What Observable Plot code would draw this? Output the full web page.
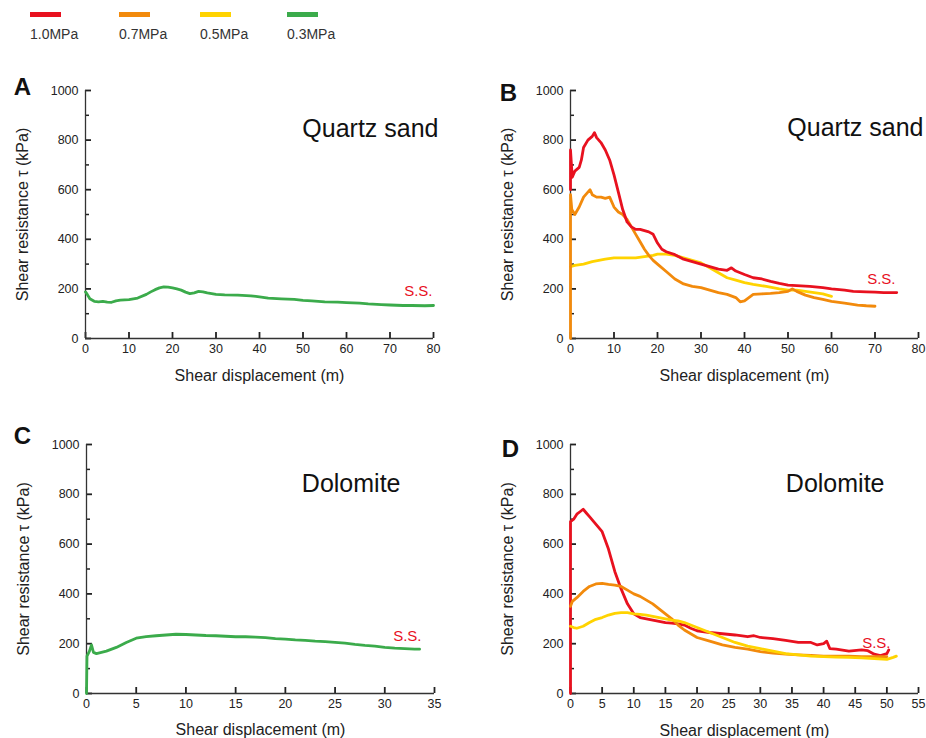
<!DOCTYPE html>
<html><head><meta charset="utf-8">
<script src="https://cdn.jsdelivr.net/npm/d3@7"></script>
<script src="https://cdn.jsdelivr.net/npm/@observablehq/plot@0.6"></script>
<style>
body{margin:0;background:#fff;font-family:Arial,"Liberation Sans",sans-serif;}
#root{position:relative;width:926px;height:738px;overflow:hidden;background:#fff;}
.panel{position:absolute;}
.panel svg{overflow:visible;}
.lg-bar{position:absolute;height:5px;width:31px;}
.lg-txt{position:absolute;font-size:14px;color:#333;line-height:14px;}
</style></head><body><div id="root"></div>
<script>
// ---- legend ----
const seriesNames = ["1.0MPa", "0.7MPa", "0.5MPa", "0.3MPa"];
const seriesColors = ["#e8111f", "#f28a0c", "#ffd300", "#3bab4b"];

// ---- ticks ----
const yTicksMajor = [0, 200, 400, 600, 800, 1000];
const yTicksMinor = [100, 300, 500, 700, 900];
const xTicksA = [0, 10, 20, 30, 40, 50, 60, 70, 80];
const xTicksB = [0, 10, 20, 30, 40, 50, 60, 70, 80];
const xTicksC = [0, 5, 10, 15, 20, 25, 30, 35];
const xTicksD = [0, 5, 10, 15, 20, 25, 30, 35, 40, 45, 50, 55];

// ---- Panel A: Quartz sand, 0.3 MPa ----
const aDisp03 = [0,0.4,1,2,3,4,5,6,7,8,10,12,14,15,16,17,18,19,20,21,22,23,24,25,26,27,28,30,32,35,38,40,42,45,48,50,52,55,58,60,63,65,68,70,73,75,78,80];
const aTau03  = [188,178,160,150,148,150,147,146,152,155,157,163,178,188,197,204,208,207,204,200,195,187,181,184,190,188,184,178,176,175,172,168,163,160,158,154,152,148,147,145,143,140,137,135,133,133,132,133];

// ---- Panel B: Quartz sand ----
const bDisp10 = [0,0,0.4,1,2,2.5,3,4,5,5.5,6,7,8,9,10,11,12,13,14,15,16,17,18,19,20,21,22,24,26,28,30,32,34,36,37,38,40,42,44,46,48,50,52,55,58,60,63,65,68,70,72,75];
const bTau10  = [600,760,650,675,690,720,770,800,815,830,810,790,760,720,660,590,520,470,450,440,440,435,430,420,385,360,350,338,320,310,300,290,280,275,285,272,258,245,240,230,222,215,213,210,205,200,195,190,188,187,185,185];
const bDisp07 = [0,0,0.3,1,2,3,4,4.5,5,6,7,8,9,10,11,12,13,14,15,16,17,18,19,20,22,24,26,28,30,32,34,36,38,39,40,41,42,44,46,48,50,51,52,54,56,58,60,63,66,68,70];
const bTau07  = [0,580,520,500,530,570,590,600,580,570,570,565,570,530,510,500,480,450,420,390,360,335,315,300,270,240,220,210,205,195,185,178,165,148,152,165,178,180,182,185,190,200,190,175,165,158,150,143,135,132,130];
const bDisp05 = [0,1,3,5,8,10,12,15,17,19,20,22,24,26,28,30,32,34,36,38,40,42,45,48,50,52,54,56,58,60];
const bTau05  = [290,295,300,310,320,325,325,325,330,335,340,340,335,325,315,305,285,265,245,235,225,218,210,200,195,195,190,185,180,170];

// ---- Panel C: Dolomite, 0.3 MPa ----
const cDisp03 = [0,0.05,0.3,0.5,0.7,1,2,3,4,5,6,7,8,9,10,11,12,13,14,15,16,17,18,19,20,21,22,23,24,25,26,27,28,29,30,31,32,33,33.5];
const cTau03  = [0,150,170,195,165,160,170,185,205,222,228,232,235,238,237,235,233,232,230,228,228,226,224,220,218,215,213,210,208,205,202,197,193,190,185,182,180,178,178];

// ---- Panel D: Dolomite ----
const dDisp10 = [0,0,0.5,1,1.5,2,2.5,3,4,5,6,7,8,9,10,11,12,13,14,15,16,17,18,19,20,22,24,26,28,29,30,32,34,36,38,39,40,40.5,41,42,44,46,47,48,49,50,50.3];
const dTau10  = [0,690,700,720,730,740,725,710,680,650,580,490,420,360,320,305,300,295,290,285,283,280,275,262,252,245,240,235,228,232,225,220,213,205,205,195,200,210,180,178,170,175,172,158,152,160,175];
const dDisp07 = [0,0.3,1,2,3,4,5,6,7,8,9,10,11,12,13,14,15,16,17,18,19,20,22,24,26,28,30,32,34,36,38,40,42,44,46,48,50];
const dTau07  = [350,370,385,410,430,440,442,438,435,430,415,400,390,375,360,340,320,300,275,255,240,225,210,195,185,178,168,162,158,155,153,150,150,150,148,148,148];
const dDisp05 = [0,0.5,1,2,3,4,5,6,7,8,9,10,11,12,13,14,15,16,17,18,19,20,22,24,26,28,30,32,34,36,38,40,42,44,46,48,50,51,51.5];
const dTau05  = [270,265,262,270,285,298,305,315,322,325,325,320,318,315,310,305,300,295,292,285,275,265,245,225,205,190,180,170,160,155,150,148,146,145,143,140,137,145,150];

const yLabel = "Shear resistance τ (kPa)";
const xLabel = "Shear displacement (m)";

const root = document.getElementById("root");

// legend
seriesNames.forEach((n, i) => {
  const left = [30, 119, 200, 287][i];
  const b = document.createElement("div");
  b.className = "lg-bar"; b.style.left = left + "px"; b.style.top = "12px"; b.style.background = seriesColors[i];
  root.appendChild(b);
  const t = document.createElement("div");
  t.className = "lg-txt"; t.style.left = left + "px"; t.style.top = "27px"; t.textContent = n;
  root.appendChild(t);
});

function panel({left, top, width, height, margins, xMax, xTicks, series, letter, letterPos, title, titlePos, ssPos, xLabDy}) {
  const [mt, mr, mb, ml] = margins;
  const fw = width - ml - mr, fh = height - mt - mb;
  // tick lengths in pixels, converted to data units of the perpendicular scale
  const xLenMajor = 6 * xMax / fw, xLenMinor = 4 * xMax / fw, yLen = 6 * 1000 / fh;
  const marks = [
    // tick labels
    Plot.axisY({ticks: yTicksMajor, tickSize: 0, tickPadding: 7, tickFormat: d => String(d), label: null, fontSize: 12.5, fill: "#222"}),
    Plot.axisX({ticks: xTicks, tickSize: 0, tickPadding: 6, tickFormat: d => String(d), label: null, fontSize: 12.5, fill: "#222"}),
    // inward tick marks
    Plot.ruleY(yTicksMajor, {y: d => d, x1: 0, x2: xLenMajor, stroke: "#222", strokeWidth: 1.8}),
    Plot.ruleY(yTicksMinor, {y: d => d, x1: 0, x2: xLenMinor, stroke: "#222", strokeWidth: 1.5}),
    Plot.ruleX(xTicks, {x: d => d, y1: 0, y2: yLen, stroke: "#222", strokeWidth: 1.8}),
    Plot.ruleX([0], {stroke: "#333", strokeWidth: 1.3}),
    Plot.ruleY([0], {stroke: "#333", strokeWidth: 1.3}),
    Plot.text([yLabel], {frameAnchor: "left", dx: -63, rotate: -90, textAnchor: "middle", text: d => d, fontSize: 16, fill: "#222"}),
    Plot.text([xLabel], {frameAnchor: "bottom", dy: xLabDy, textAnchor: "middle", text: d => d, fontSize: 16, fill: "#222"})
  ];
  for (const s of series) {
    marks.push(Plot.line(d3.zip(s.x, s.y), {x: d => d[0], y: d => d[1], stroke: s.color, strokeWidth: 2.8, strokeLinejoin: "round"}));
  }
  marks.push(Plot.text([title], {frameAnchor: "top-right", dx: titlePos[0], dy: titlePos[1], text: d => d, textAnchor: "end", lineAnchor: "middle", fontSize: 25, fill: "#111"}));
  marks.push(Plot.text(["S.S."], {frameAnchor: "bottom-right", dx: ssPos[0], dy: ssPos[1], text: d => d, textAnchor: "end", lineAnchor: "middle", fontSize: 15, fill: "#e8111f"}));
  marks.push(Plot.text([letter], {frameAnchor: "top-left", dx: letterPos[0], dy: letterPos[1], text: d => d, textAnchor: "middle", lineAnchor: "middle", fontSize: 24, fontWeight: "bold", fill: "#111"}));
  const p = Plot.plot({
    width, height, marginTop: mt, marginRight: mr, marginBottom: mb, marginLeft: ml,
    x: {domain: [0, xMax], axis: null},
    y: {domain: [0, 1000], axis: null},
    style: {fontFamily: "Arial, 'Liberation Sans', sans-serif", fontSize: "12px", color: "#222", background: "transparent", overflow: "visible"},
    marks
  });
  const wrap = document.createElement("div");
  wrap.className = "panel"; wrap.style.left = left + "px"; wrap.style.top = top + "px";
  wrap.appendChild(p);
  root.appendChild(wrap);
}

panel({left: 0, top: 60, width: 463, height: 330, margins: [30, 30, 52, 85], xMax: 80, xTicks: xTicksA,
  series: [{x: aDisp03, y: aTau03, color: seriesColors[3]}],
  letter: "A", letterPos: [-63, -3], title: "Quartz sand", titlePos: [5, 38], ssPos: [-1, -47], xLabDy: 42});

panel({left: 463, top: 60, width: 463, height: 330, margins: [30, 8, 52, 107], xMax: 80, xTicks: xTicksB,
  series: [{x: bDisp05, y: bTau05, color: seriesColors[2]}, {x: bDisp07, y: bTau07, color: seriesColors[1]}, {x: bDisp10, y: bTau10, color: seriesColors[0]}],
  letter: "B", letterPos: [-62, 3], title: "Quartz sand", titlePos: [5, 37], ssPos: [-23, -59], xLabDy: 42});

panel({left: 0, top: 410, width: 463, height: 328, margins: [34, 29, 45, 86], xMax: 35, xTicks: xTicksC,
  series: [{x: cDisp03, y: cTau03, color: seriesColors[3]}],
  letter: "C", letterPos: [-64, -8], title: "Dolomite", titlePos: [-34, 39], ssPos: [-13, -57], xLabDy: 41});

panel({left: 463, top: 410, width: 463, height: 328, margins: [34, 8, 45, 107], xMax: 55, xTicks: xTicksD,
  series: [{x: dDisp10, y: dTau10, color: seriesColors[0]}, {x: dDisp07, y: dTau07, color: seriesColors[1]}, {x: dDisp05, y: dTau05, color: seriesColors[2]}],
  letter: "D", letterPos: [-60, 5], title: "Dolomite", titlePos: [-34, 39], ssPos: [-28, -50], xLabDy: 42});
</script>
</body></html>
